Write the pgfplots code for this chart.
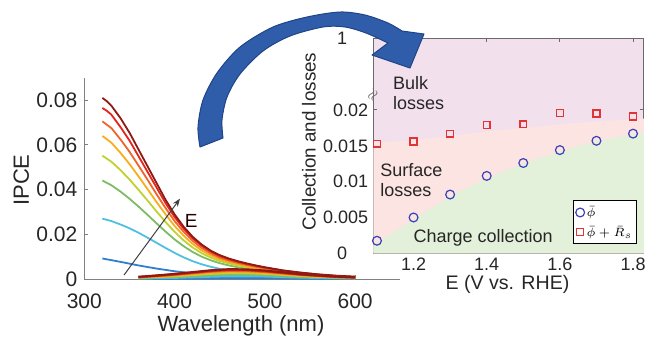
\documentclass[border=0pt]{standalone}
\usepackage{pgfplots}
\pgfplotsset{compat=1.18}
\usepackage{fontspec}
\setmainfont{Liberation Sans}
\usetikzlibrary{arrows.meta}
\definecolor{axgray}{HTML}{808080}
\definecolor{boxgray}{HTML}{6A6A6A}
\definecolor{lblgray}{HTML}{262626}
\definecolor{cA}{HTML}{2F7FCF}
\definecolor{cB}{HTML}{4FC0E0}
\definecolor{cC}{HTML}{7CBD64}
\definecolor{cD}{HTML}{BFD22F}
\definecolor{cE}{HTML}{F8AE1A}
\definecolor{cF}{HTML}{F0642A}
\definecolor{cG}{HTML}{E2261C}
\definecolor{cH}{HTML}{8E1A14}
\definecolor{bulkpink}{HTML}{F3E0ED}
\definecolor{surfpink}{HTML}{FBE4E2}
\definecolor{collgreen}{HTML}{E3F0DA}
\definecolor{circblue}{HTML}{3C40B8}
\definecolor{sqred}{HTML}{E23434}
\definecolor{arrowblue}{HTML}{2F5DAA}
\definecolor{arrowdark}{HTML}{1F4488}
\begin{document}
\begin{tikzpicture}
\path[use as bounding box] (0,0) rectangle (328pt,175pt);
% ---------------- left axis ----------------
\begin{axis}[
  at={(42.15pt,35.35pt)}, anchor=south west,
  scale only axis, width=158pt, height=100.8pt,
  xmin=300, xmax=650, ymin=0, ymax=0.09,
  scaled ticks=false,
  axis lines=left, axis line style={-, draw=axgray, line width=0.6pt},
  xtick={300,400,500,600}, xticklabels={300,400,500,600},
  ytick={0,0.02,0.04,0.06,0.08}, yticklabels={0,0.02,0.04,0.06,0.08},
  tick align=inside, major tick length=2pt, tick style={draw=axgray, line width=0.5pt},
  ticklabel style={font=\fontsize{10.5}{12}\selectfont, text=lblgray},
  xticklabel style={yshift=-3.5pt},
  /pgf/number format/assume math mode=true,
  xlabel={Wavelength (nm)}, ylabel={IPCE},
  label style={font=\fontsize{11}{13}\selectfont, text=lblgray},
  xlabel style={at={(axis description cs:0.496,0)}, anchor=base, yshift=-26.2pt},
  ylabel style={at={(axis description cs:-0.199,0.4926)}, anchor=center},
  clip=false,
  every axis plot/.append style={line width=0.9pt},
]
% main IPCE curves (low E -> high E)
\addplot[cA] coordinates {(320,0.0093)(340,0.0078)(360,0.0062)(380,0.0048)(400,0.0036)(420,0.0027)(440,0.0021)(460,0.0017)(480,0.0014)(500,0.0012)(540,0.0008)(600,0.0004)};
\addplot[cB] coordinates {(320,0.0271)(330,0.026)(340,0.0245)(350,0.0228)(360,0.0208)(370,0.0186)(380,0.0163)(390,0.0140)(400,0.0118)(410,0.0098)(420,0.0081)(430,0.0067)(440,0.0056)(450,0.0047)(460,0.0041)(470,0.0036)(480,0.0032)(490,0.0028)(500,0.0025)(520,0.0019)(540,0.0014)(560,0.001)(580,0.0007)(600,0.0005)};
\addplot[cC] coordinates {(320,0.0441)(330,0.042)(340,0.0392)(350,0.036)(360,0.0325)(370,0.0288)(380,0.025)(390,0.0213)(400,0.0178)(410,0.0148)(420,0.0122)(430,0.0101)(440,0.0085)(450,0.0072)(460,0.0062)(470,0.0054)(480,0.0047)(490,0.0042)(500,0.0037)(520,0.0028)(540,0.0021)(560,0.0015)(580,0.0011)(600,0.0007)};
\addplot[cD] coordinates {(320,0.0552)(330,0.0525)(340,0.0488)(350,0.0446)(360,0.0400)(370,0.0352)(380,0.0303)(390,0.0256)(400,0.0212)(410,0.0174)(420,0.0142)(430,0.0117)(440,0.0097)(450,0.0082)(460,0.0071)(470,0.0062)(480,0.0054)(490,0.0048)(500,0.0042)(520,0.0031)(540,0.0023)(560,0.0017)(580,0.0012)(600,0.0008)};
\addplot[cE] coordinates {(320,0.064)(330,0.061)(340,0.0565)(350,0.0515)(360,0.046)(370,0.0403)(380,0.0345)(390,0.029)(400,0.0238)(410,0.0195)(420,0.0158)(430,0.0129)(440,0.0107)(450,0.009)(460,0.0078)(470,0.0068)(480,0.0059)(490,0.0052)(500,0.0046)(520,0.0034)(540,0.0025)(560,0.0018)(580,0.0013)(600,0.0009)};
\addplot[cF] coordinates {(320,0.0705)(330,0.0675)(340,0.0625)(350,0.057)(360,0.0508)(370,0.0445)(380,0.038)(390,0.0318)(400,0.026)(410,0.0212)(420,0.0172)(430,0.014)(440,0.0116)(450,0.0097)(460,0.0084)(470,0.0073)(480,0.0064)(490,0.0056)(500,0.0049)(520,0.0037)(540,0.0027)(560,0.002)(580,0.0014)(600,0.001)};
\addplot[cG] coordinates {(320,0.0765)(325,0.0752)(330,0.0735)(340,0.068)(350,0.062)(360,0.055)(370,0.048)(380,0.041)(390,0.034)(400,0.0278)(410,0.0226)(420,0.0183)(430,0.015)(440,0.0124)(450,0.0104)(460,0.009)(470,0.0078)(480,0.0068)(490,0.006)(500,0.0052)(520,0.0039)(540,0.0029)(560,0.0021)(580,0.0015)(600,0.0011)};
\addplot[cH] coordinates {(320,0.081)(325,0.0795)(330,0.0775)(340,0.072)(350,0.0655)(360,0.058)(370,0.0505)(380,0.043)(390,0.0355)(400,0.029)(410,0.0235)(420,0.019)(430,0.0155)(440,0.0128)(450,0.0108)(460,0.0093)(470,0.0081)(480,0.0071)(490,0.0062)(500,0.0054)(520,0.0040)(540,0.0030)(560,0.0022)(580,0.0016)(600,0.0012)};
% lower band of curves
\addplot[cA, line width=1.1pt] coordinates {(360,0.0002)(400,0.0003)(440,0.0005)(460,0.0006)(480,0.0006)(520,0.0005)(560,0.0003)(600,0.0002)};
\addplot[cB, line width=1.1pt] coordinates {(360,0.0004)(400,0.0007)(440,0.0012)(460,0.0014)(480,0.0014)(500,0.0013)(540,0.0008)(600,0.0004)};
\addplot[cC, line width=1.1pt] coordinates {(360,0.0005)(400,0.0011)(440,0.0019)(460,0.0022)(480,0.0022)(500,0.0020)(540,0.0012)(580,0.0007)(600,0.0005)};
\addplot[cD, line width=1.1pt] coordinates {(360,0.0007)(400,0.0014)(440,0.0025)(460,0.0028)(480,0.0028)(500,0.0025)(540,0.0015)(580,0.0008)(600,0.0006)};
\addplot[cE, line width=1.1pt] coordinates {(360,0.0008)(400,0.0017)(440,0.0030)(460,0.0034)(480,0.0033)(500,0.0029)(540,0.0017)(580,0.0009)(600,0.0007)};
\addplot[cF, line width=1.1pt] coordinates {(360,0.0009)(400,0.0020)(440,0.0034)(460,0.0038)(480,0.0037)(500,0.0033)(540,0.0020)(580,0.0010)(600,0.0008)};
\addplot[cG, line width=1.1pt] coordinates {(360,0.0010)(400,0.0022)(440,0.0037)(460,0.0042)(480,0.0041)(500,0.0036)(540,0.0021)(580,0.0011)(600,0.0008)};
\addplot[cH, line width=1.1pt] coordinates {(360,0.0011)(380,0.0017)(400,0.0024)(420,0.0032)(440,0.0040)(460,0.0045)(480,0.0044)(500,0.0039)(520,0.0031)(540,0.0023)(560,0.0017)(580,0.0012)(600,0.0009)};
\draw[-{Stealth[length=4pt,width=3pt]}, line width=0.5pt, draw=black!75] (axis cs:344,0.0019) -- (axis cs:406,0.036);
\node[font=\fontsize{9.5}{11}\selectfont, text=black!85!red] at (axis cs:418.5,0.0262) {E};
\end{axis}
% ---------------- right axis ----------------
\begin{axis}[
  at={(186.65pt,48.35pt)}, anchor=south west,
  scale only axis, width=135.35pt, height=107.5pt,
  xmin=1.09, xmax=1.83, ymin=0, ymax=0.03,
  scaled ticks=false,
  axis background/.style={fill=bulkpink},
  axis line style={draw=boxgray, line width=0.5pt},
  xtick={1.2,1.4,1.6,1.8}, xticklabels={1.2,1.4,1.6,1.8},
  ytick={0.005,0.01,0.015,0.02}, yticklabels={0.005,0.01,0.015,0.02},
  extra y ticks={0,0.03}, extra y tick labels={0,1},
  extra y tick style={yticklabel style={xshift=-10.5pt}},
  tick align=inside, major tick length=2pt, tick style={draw=boxgray, line width=0.5pt},
  ticklabel style={font=\fontsize{9}{11}\selectfont, text=lblgray},
  xticklabel style={yshift=1pt},
  yticklabel style={xshift=1pt},
  /pgf/number format/assume math mode=true,
  xlabel={E (V vs. RHE)}, ylabel={Collection and losses},
  label style={text=lblgray},
  xlabel style={font=\fontsize{9.8}{11}\selectfont, at={(axis description cs:0.4957,0)}, anchor=base, yshift=-18.2pt},
  ylabel style={font=\fontsize{9.4}{11}\selectfont, at={(axis description cs:-0.2375,0.52)}, anchor=center},
  legend style={at={(0.973,0.042)}, anchor=south east, font=\fontsize{6.5}{7}\selectfont, draw=black, line width=0.4pt, fill=white, inner sep=1pt, row sep=0pt, nodes={inner sep=1pt, text height=6pt, text depth=1.8pt}},
  legend cell align=left,
  clip=false,
]
\addplot[draw=none, fill=surfpink, smooth, forget plot] coordinates {(1.09,0.0154)(1.2,0.0158)(1.3,0.0164)(1.4,0.0170)(1.5,0.0175)(1.6,0.0180)(1.7,0.0184)(1.83,0.0188)} \closedcycle;
\addplot[draw=none, fill=collgreen, smooth, forget plot] coordinates {(1.09,0.0011)(1.2,0.0047)(1.3,0.0079)(1.4,0.0104)(1.5,0.0125)(1.6,0.0142)(1.7,0.0156)(1.83,0.0169)} \closedcycle;
\addplot[only marks, mark=o, mark size=2.2pt, draw=circblue, line width=0.6pt] coordinates {(1.1,0.00175)(1.2,0.0050)(1.3,0.0082)(1.4,0.0108)(1.5,0.0126)(1.6,0.0144)(1.7,0.0157)(1.8,0.0167)};
\addlegendentry{$\bar{\phi}$}
\addplot[only marks, mark=square, mark size=1.7pt, draw=sqred, line width=0.7pt] coordinates {(1.1,0.0153)(1.2,0.0156)(1.3,0.0167)(1.4,0.0179)(1.5,0.0180)(1.6,0.0196)(1.7,0.0195)(1.8,0.0191)};
\addlegendentry{$\bar{\phi}+\bar{R}_s$}
\node[anchor=west, align=left, inner sep=0pt, font=\fontsize{9}{10}\selectfont, text=lblgray] at (axis cs:1.143,0.0223) {Bulk\\losses};
\node[anchor=west, align=left, inner sep=0pt, font=\fontsize{9}{10}\selectfont, text=lblgray] at (axis cs:1.108,0.01025) {Surface\\losses};
\node[anchor=west, inner sep=0pt, font=\fontsize{9}{10}\selectfont, text=lblgray] at (axis cs:1.199,0.00213) {Charge collection};
\node[rotate=60, inner sep=0pt, font=\scriptsize, text=boxgray] at (axis cs:1.09,0.0221) {$\approx$};
\end{axis}
% ---------------- big curved arrow ----------------
\begin{scope}[shift={(0,175pt)}, x=0.5pt, y=-0.5pt]
\filldraw[fill=arrowblue, draw=arrowdark, line width=0.5pt, line join=round]
  plot[smooth] coordinates {(200,147) (198,127) (203,100) (217,73) (240,47) (273,27) (307,17) (340,12) (365,15) (388,23) (402,31)}
  -- (424,34) -- (410,68) -- (372,55)
  -- plot[smooth] coordinates {(388,43) (366,33) (345,27) (323,27) (290,36) (263,51) (240,74) (227,97) (222,120) (223,138)}
  -- cycle;
\end{scope}
\end{tikzpicture}
\end{document}
